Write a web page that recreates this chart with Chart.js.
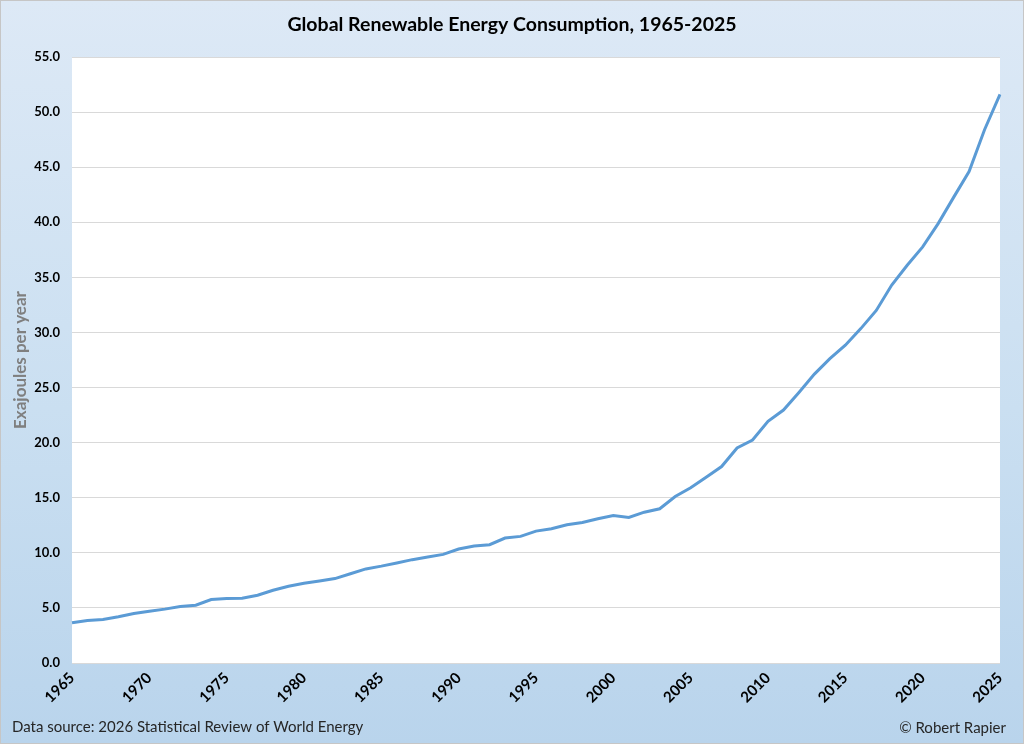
<!DOCTYPE html>
<html>
<head>
<meta charset="utf-8">
<title>Global Renewable Energy Consumption</title>
<script src="https://cdn.jsdelivr.net/npm/chart.js@4.4.1/dist/chart.umd.min.js"></script>
<style>
  body { margin: 0; }
  #wrap {
    width: 1024px; height: 744px; position: relative;
    background: linear-gradient(to bottom, #dde9f6 0%, #cadff1 55%, #b9d4ec 100%);
  }
</style>
</head>
<body>
<div id="wrap"><canvas id="energyChart"></canvas></div>
<script>
// years shown on the x axis
const years = [];
for (let y = 1965; y <= 2025; y++) years.push(String(y));

// renewable consumption, exajoules per year
const renewables = [
    3.65, 3.86, 3.95, 4.19, 4.5, 4.7, 4.89, 5.13, 5.25, 5.76,
    5.85, 5.88, 6.15, 6.6, 6.97, 7.24, 7.45, 7.66, 8.1, 8.54,
    8.79, 9.08, 9.38, 9.62, 9.86, 10.35, 10.62, 10.74, 11.34, 11.49,
    11.97, 12.19, 12.55, 12.76, 13.09, 13.39, 13.21, 13.69, 14.0, 15.11,
    15.9, 16.86, 17.83, 19.52, 20.24, 21.93, 22.96, 24.56, 26.22, 27.63,
    28.84, 30.35, 32.0, 34.3, 36.1, 37.77, 39.88, 42.26, 44.6, 48.4,
    51.6
];

const yTicks = [0, 5, 10, 15, 20, 25, 30, 35, 40, 45, 50, 55];

const FONT = 'Lato, "Open Sans", sans-serif';

// white plot area, title centred on the page, outer border, footer notes
const decorPlugin = {
    id: 'decor',
    beforeDraw(chart) {
        const { ctx, chartArea: a } = chart;
        ctx.save();
        ctx.fillStyle = '#ffffff';
        ctx.fillRect(a.left, a.top, a.right - a.left, a.bottom - a.top);
        ctx.restore();
    },
    afterDraw(chart) {
        const ctx = chart.ctx;
        ctx.save();
        ctx.textBaseline = 'middle';
        ctx.fillStyle = '#000000';
        ctx.font = 'bold 19.5px ' + FONT;
        ctx.textAlign = 'center';
        ctx.fillText('Global Renewable Energy Consumption, 1965-2025', chart.width / 2, 25);

        ctx.font = '15px ' + FONT;
        ctx.fillStyle = '#262626';
        ctx.textAlign = 'left';
        ctx.fillText('Data source: 2026 Statistical Review of World Energy', 12, 727);
        ctx.textAlign = 'right';
        ctx.fillText('\u00A9 Robert Rapier', 1006, 728);

        ctx.strokeStyle = '#c6c6c6';
        ctx.lineWidth = 1;
        ctx.strokeRect(0.5, 0.5, chart.width - 1, chart.height - 1);
        ctx.restore();
    }
};

const ctx = document.getElementById('energyChart').getContext('2d');
new Chart(ctx, {
    type: 'line',
    data: {
        labels: years,
        datasets: [{
            label: 'Renewables',
            data: renewables,
            borderColor: '#5b9bd5',
            borderWidth: 3,
            pointRadius: 0,
            tension: 0,
            fill: false
        }]
    },
    options: {
        responsive: true,
        maintainAspectRatio: false,
        animation: false,
        layout: { padding: { left: 0, right: 24, top: 57, bottom: 0 } },
        plugins: {
            legend: { display: false },
            tooltip: { enabled: false },
            title: { display: false }
        },
        scales: {
            x: {
                type: 'category',
                offset: false,
                grid: { display: false, drawTicks: false },
                border: { display: false },
                ticks: {
                    autoSkip: false,
                    minRotation: 45,
                    maxRotation: 45,
                    padding: 6,
                    color: '#000000',
                    font: { family: FONT, size: 15, weight: 'bold' },
                    callback: function (value, index) {
                        const y = Number(years[index]);
                        return y % 5 === 0 ? years[index] : null;
                    }
                },
                afterFit(scale) { scale.height = 81; }
            },
            y: {
                min: 0,
                max: 55,
                afterBuildTicks(scale) { scale.ticks = yTicks.map(v => ({ value: v })); },
                grid: { color: '#d9d9d9', drawTicks: false, lineWidth: 1 },
                border: { display: false },
                ticks: {
                    padding: 12,
                    color: '#000000',
                    font: { family: FONT, size: 13, weight: 'bold' },
                    callback: v => Number(v).toFixed(1)
                },
                title: {
                    display: true,
                    text: 'Exajoules per year',
                    color: '#7f7f7f',
                    font: { family: FONT, size: 17, weight: 'bold' },
                    padding: { top: 10, bottom: 0 }
                },
                afterFit(scale) { scale.width = 72; }
            }
        }
    },
    plugins: [decorPlugin]
});
</script>
</body>
</html>
